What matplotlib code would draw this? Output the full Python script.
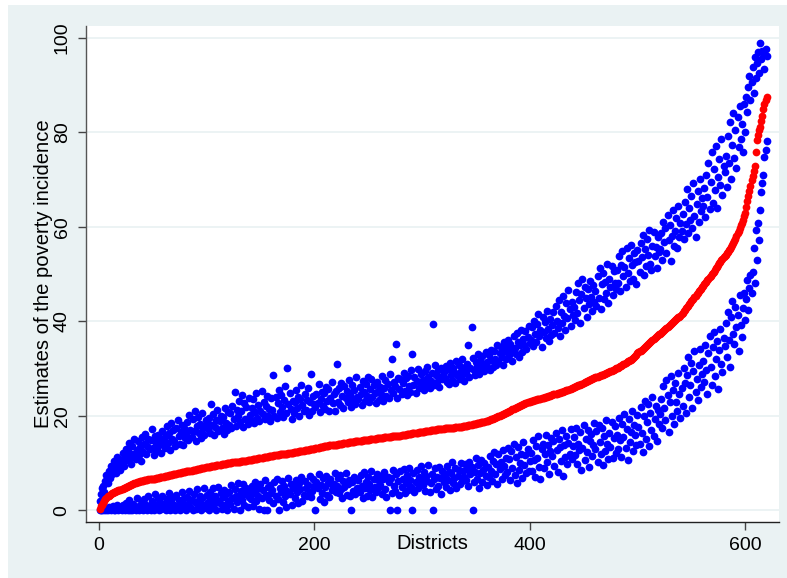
import numpy as np
import matplotlib.pyplot as plt
from matplotlib.patches import Rectangle

plt.rcParams['font.family'] = ['Liberation Sans', 'DejaVu Sans']

# Point estimates of poverty incidence, districts sorted by estimate
estimate = [
    0.3, 0.8, 1.2, 1.6, 2.0, 2.3, 2.6, 2.9, 3.1, 3.3, 3.4, 3.6, 3.7, 3.8, 3.9, 4.0, 4.1, 4.2, 4.2, 4.3,
    4.4, 4.5, 4.6, 4.7, 4.9, 5.0, 5.1, 5.2, 5.3, 5.4, 5.5, 5.6, 5.7, 5.8, 5.9, 6.0, 6.0, 6.1, 6.1, 6.2,
    6.2, 6.3, 6.3, 6.4, 6.4, 6.5, 6.5, 6.6, 6.6, 6.6, 6.7, 6.7, 6.8, 6.8, 6.9, 6.9, 7.0, 7.0, 7.1, 7.1,
    7.2, 7.2, 7.3, 7.3, 7.4, 7.4, 7.5, 7.5, 7.6, 7.6, 7.7, 7.7, 7.8, 7.8, 7.9, 7.9, 8.0, 8.0, 8.1, 8.1,
    8.2, 8.2, 8.3, 8.3, 8.4, 8.4, 8.5, 8.5, 8.6, 8.6, 8.7, 8.7, 8.8, 8.8, 8.9, 8.9, 9.0, 9.0, 9.1, 9.1,
    9.1, 9.2, 9.2, 9.3, 9.3, 9.3, 9.4, 9.4, 9.5, 9.5, 9.5, 9.6, 9.6, 9.7, 9.7, 9.7, 9.8, 9.8, 9.9, 9.9,
    9.9, 10.0, 10.0, 10.1, 10.1, 10.1, 10.2, 10.2, 10.3, 10.3, 10.3, 10.4, 10.4, 10.4, 10.5, 10.5, 10.5, 10.6, 10.6, 10.6,
    10.7, 10.7, 10.8, 10.8, 10.9, 10.9, 10.9, 11.0, 11.0, 11.0, 11.1, 11.1, 11.2, 11.2, 11.2, 11.3, 11.3, 11.4, 11.4, 11.4,
    11.5, 11.5, 11.6, 11.6, 11.6, 11.7, 11.7, 11.8, 11.8, 11.8, 11.9, 11.9, 12.0, 12.0, 12.0, 12.1, 12.1, 12.2, 12.2, 12.2,
    12.3, 12.3, 12.4, 12.4, 12.4, 12.5, 12.5, 12.6, 12.6, 12.6, 12.7, 12.7, 12.8, 12.8, 12.8, 12.9, 12.9, 13.0, 13.0, 13.0,
    13.1, 13.1, 13.2, 13.2, 13.3, 13.3, 13.4, 13.4, 13.5, 13.5, 13.5, 13.6, 13.6, 13.7, 13.7, 13.8, 13.8, 13.8, 13.9, 13.9,
    13.9, 14.0, 14.0, 14.1, 14.1, 14.1, 14.2, 14.2, 14.3, 14.3, 14.3, 14.4, 14.4, 14.4, 14.5, 14.5, 14.5, 14.6, 14.6, 14.6,
    14.6, 14.7, 14.7, 14.7, 14.8, 14.8, 14.8, 14.9, 14.9, 14.9, 14.9, 15.0, 15.0, 15.0, 15.1, 15.1, 15.1, 15.2, 15.2, 15.2,
    15.2, 15.3, 15.3, 15.3, 15.4, 15.4, 15.4, 15.5, 15.5, 15.5, 15.5, 15.6, 15.6, 15.6, 15.7, 15.7, 15.7, 15.8, 15.8, 15.8,
    15.9, 15.9, 16.0, 16.0, 16.0, 16.1, 16.1, 16.2, 16.2, 16.2, 16.3, 16.3, 16.3, 16.4, 16.4, 16.4, 16.5, 16.5, 16.5, 16.5,
    16.6, 16.6, 16.7, 16.7, 16.7, 16.8, 16.8, 16.9, 16.9, 16.9, 17.0, 17.0, 17.0, 17.1, 17.1, 17.1, 17.1, 17.2, 17.2, 17.2,
    17.3, 17.3, 17.3, 17.4, 17.4, 17.4, 17.5, 17.5, 17.5, 17.5, 17.6, 17.6, 17.6, 17.7, 17.7, 17.7, 17.7, 17.8, 17.8, 17.8,
    17.9, 17.9, 18.0, 18.0, 18.1, 18.1, 18.2, 18.2, 18.3, 18.3, 18.4, 18.4, 18.5, 18.5, 18.6, 18.6, 18.7, 18.7, 18.8, 18.9,
    18.9, 19.0, 19.1, 19.2, 19.3, 19.4, 19.5, 19.6, 19.7, 19.8, 19.9, 20.0, 20.1, 20.2, 20.3, 20.4, 20.5, 20.6, 20.7, 20.8,
    20.9, 21.1, 21.2, 21.4, 21.5, 21.6, 21.7, 21.8, 21.9, 22.0, 22.1, 22.2, 22.3, 22.4, 22.5, 22.6, 22.7, 22.8, 22.9, 23.0,
    23.1, 23.1, 23.2, 23.3, 23.3, 23.4, 23.5, 23.5, 23.6, 23.6, 23.7, 23.8, 23.8, 23.9, 24.0, 24.0, 24.1, 24.2, 24.2, 24.3,
    24.4, 24.5, 24.5, 24.6, 24.7, 24.8, 24.8, 24.9, 25.0, 25.0, 25.1, 25.2, 25.3, 25.4, 25.5, 25.5, 25.6, 25.7, 25.8, 25.9,
    26.0, 26.1, 26.2, 26.3, 26.4, 26.5, 26.6, 26.7, 26.8, 27.0, 27.1, 27.2, 27.3, 27.4, 27.5, 27.6, 27.7, 27.8, 27.9, 28.0,
    28.1, 28.2, 28.3, 28.4, 28.5, 28.6, 28.6, 28.7, 28.8, 28.9, 29.0, 29.1, 29.2, 29.3, 29.4, 29.5, 29.6, 29.7, 29.8, 30.0,
    30.1, 30.2, 30.4, 30.5, 30.6, 30.8, 30.9, 31.0, 31.2, 31.3, 31.5, 31.6, 31.8, 31.9, 32.1, 32.3, 32.5, 32.7, 32.9, 33.2,
    33.4, 33.6, 33.8, 34.0, 34.2, 34.4, 34.6, 34.8, 35.0, 35.2, 35.4, 35.6, 35.8, 36.0, 36.2, 36.4, 36.6, 36.8, 37.0, 37.2,
    37.4, 37.6, 37.8, 38.0, 38.2, 38.4, 38.6, 38.8, 39.0, 39.2, 39.4, 39.6, 39.8, 40.0, 40.2, 40.4, 40.6, 40.8, 41.0, 41.2,
    41.5, 41.8, 42.1, 42.4, 42.7, 43.0, 43.3, 43.6, 43.9, 44.2, 44.5, 44.8, 45.1, 45.4, 45.7, 46.0, 46.3, 46.6, 46.9, 47.2,
    47.5, 47.8, 48.1, 48.4, 48.7, 49.0, 49.3, 49.6, 49.9, 50.2, 50.5, 50.8, 51.2, 51.5, 51.9, 52.3, 52.6, 52.9, 53.2, 53.5,
    53.8, 54.1, 54.4, 54.7, 55.0, 55.3, 55.7, 56.1, 56.5, 57.0, 57.5, 58.0, 58.6, 59.2, 59.8, 60.3, 60.9, 61.5, 62.2, 63.0,
    64.2, 65.4, 66.5, 67.6, 68.7, 69.8, 70.8, 71.8, 72.8, 75.8, 78.4, 79.4, 80.4, 81.2, 82.3, 83.5, 85.0, 86.0, 86.8, 87.4,
]

# Upper bound of the interval
upper = [
    2.0, 3.5, 4.8, 5.2, 3.9, 6.1, 7.4, 5.8, 8.2, 6.9, 9.3, 7.6, 8.8, 10.4, 9.1, 7.9, 11.2, 9.7, 10.8, 8.6,
    10.2, 12.1, 9.4, 11.5, 13.0, 10.7, 12.6, 14.2, 11.1, 9.8, 13.5, 12.0, 15.1, 10.9, 12.8, 14.6, 11.7, 13.3, 10.5, 15.4,
    12.4, 14.0, 16.2, 11.8, 13.6, 15.0, 12.9, 14.8, 17.1, 13.2, 11.6, 15.7, 14.3, 12.7, 16.0, 13.9, 15.3, 12.2, 16.8, 14.5,
    13.1, 15.6, 17.8, 14.2, 16.4, 12.8, 18.4, 15.0, 16.9, 14.7, 13.5, 17.3, 19.1, 15.8, 14.0, 16.6, 18.0, 13.8, 17.5, 15.2,
    16.1, 18.7, 14.9, 20.2, 17.0, 15.5, 19.3, 16.8, 21.0, 14.6, 17.9, 19.8, 16.3, 18.2, 15.2, 20.6, 17.4, 16.0, 19.0, 18.5,
    17.2, 19.5, 16.4, 22.4, 18.1, 20.3, 15.9, 17.7, 19.1, 21.2, 16.7, 18.8, 20.0, 17.5, 19.7, 16.2, 21.6, 18.4, 17.0, 20.8,
    18.0, 20.5, 17.3, 22.1, 19.4, 25.0, 17.8, 21.3, 19.9, 23.2, 18.6, 20.9, 24.3, 17.6, 22.6, 19.2, 21.8, 18.3, 23.7, 20.1,
    19.0, 21.7, 23.5, 18.5, 20.7, 24.8, 19.6, 22.3, 18.9, 21.1, 25.3, 20.4, 23.0, 19.3, 22.0, 24.1, 20.0, 21.5, 18.8, 23.8,
    21.2, 28.6, 20.0, 23.9, 19.5, 22.7, 25.5, 20.8, 24.4, 21.9, 19.8, 23.4, 26.2, 20.5, 30.0, 22.5, 24.9, 21.4, 19.4, 23.1,
    20.6, 22.8, 25.4, 21.7, 24.0, 19.9, 23.6, 26.4, 22.2, 20.9, 24.7, 21.3, 23.3, 25.9, 20.2, 22.9, 28.8, 21.0, 24.2, 22.4,
    21.8, 24.5, 22.6, 26.7, 20.7, 23.5, 25.1, 22.0, 24.8, 21.5, 26.0, 23.2, 25.6, 21.1, 23.8, 27.2, 22.7, 24.6, 20.9, 25.3,
    31.0, 23.0, 25.8, 22.3, 27.0, 24.1, 21.6, 26.3, 23.7, 25.2, 22.8, 27.6, 24.4, 21.9, 26.6, 23.3, 25.5, 22.5, 28.1, 24.0,
    23.6, 26.1, 24.7, 22.2, 27.4, 25.0, 23.1, 26.8, 24.2, 28.3, 22.9, 25.7, 27.8, 23.9, 26.4, 24.9, 22.6, 27.1, 25.3, 23.4,
    26.0, 24.5, 28.4, 23.2, 25.9, 27.5, 24.1, 26.7, 23.8, 28.8, 25.4, 32.0, 24.8, 27.2, 26.3, 35.2, 23.7, 28.0, 25.6, 27.7,
    24.6, 26.9, 29.1, 25.2, 27.9, 24.3, 28.5, 26.2, 25.0, 29.6, 33.0, 26.6, 28.2, 24.9, 27.3, 29.9, 25.8, 27.0, 28.9, 26.4,
    27.6, 25.5, 29.4, 26.8, 30.3, 28.1, 25.9, 27.4, 29.0, 39.4, 26.5, 30.8, 28.6, 27.1, 29.7, 26.0, 28.3, 30.1, 27.8, 29.2,
    28.0, 30.5, 27.2, 29.8, 26.7, 31.2, 28.7, 27.5, 30.0, 29.3, 26.9, 31.6, 28.4, 30.7, 27.7, 29.5, 32.0, 28.9, 27.3, 30.4,
    29.1, 31.0, 35.0, 28.2, 30.2, 38.8, 32.3, 29.7, 28.6, 31.4, 30.6, 33.0, 28.8, 31.9, 29.9, 32.6, 30.9, 29.4, 33.4, 31.3,
    30.1, 32.9, 29.6, 34.0, 31.7, 30.4, 33.6, 32.1, 30.8, 35.0, 31.5, 33.2, 34.6, 32.4, 30.7, 35.5, 33.8, 32.0, 34.3, 36.1,
    32.8, 35.2, 33.9, 31.6, 36.8, 34.4, 33.1, 37.5, 35.7, 32.5, 34.9, 38.2, 33.5, 36.3, 35.0, 37.9, 34.1, 36.6, 39.0, 35.4,
    36.0, 38.7, 34.8, 40.1, 37.3, 35.6, 39.4, 41.5, 36.9, 38.1, 34.5, 40.8, 37.8, 39.9, 36.4, 42.2, 38.4, 35.9, 40.5, 37.0,
    39.2, 41.9, 37.6, 43.3, 40.0, 38.6, 44.5, 36.8, 42.0, 39.7, 45.3, 41.1, 38.2, 43.8, 40.6, 46.6, 42.5, 39.0, 44.1, 41.4,
    43.0, 40.2, 46.1, 41.8, 48.0, 44.4, 39.6, 45.7, 49.0, 42.8, 47.3, 44.9, 41.0, 46.8, 43.6, 48.6, 45.2, 42.1, 47.7, 44.0,
    46.3, 43.2, 49.5, 45.0, 51.2, 42.6, 47.9, 50.3, 44.7, 48.4, 46.0, 52.1, 43.9, 49.0, 47.2, 51.6, 45.6, 50.7, 48.1, 46.8,
    50.8, 48.0, 53.8, 46.3, 52.0, 54.9, 49.6, 51.4, 47.2, 55.6, 50.2, 53.3, 48.5, 56.1, 51.9, 49.0, 54.4, 52.5, 47.9, 55.0,
    52.8, 50.4, 56.6, 53.5, 58.2, 49.7, 55.3, 51.6, 57.4, 54.1, 59.3, 52.2, 50.9, 56.0, 58.8, 53.9, 55.8, 51.3, 57.9, 54.7,
    55.2, 58.6, 53.0, 61.1, 56.7, 59.8, 54.4, 62.5, 57.3, 60.4, 52.7, 58.1, 63.6, 56.0, 59.2, 61.8, 55.5, 64.3, 57.9, 60.9,
    59.0, 62.7, 57.4, 65.3, 60.5, 68.0, 58.6, 63.9, 61.4, 66.6, 59.7, 69.2, 62.2, 57.8, 64.8, 67.5, 61.0, 70.1, 63.4, 66.0,
    64.5, 68.2, 62.0, 71.0, 66.3, 73.5, 63.7, 69.4, 75.8, 65.1, 72.2, 67.8, 77.0, 64.0, 70.6, 74.4, 68.9, 78.5, 66.7, 72.8,
    71.5, 75.0, 68.4, 79.2, 73.6, 82.1, 70.2, 77.3, 84.0, 74.6, 80.5, 72.4, 83.2, 76.9, 85.5, 78.6, 81.7, 75.9, 86.0, 80.0,
    87.5, 84.3, 89.6, 92.0, 86.8, 90.7, 93.8, 88.4, 96.0, 91.5, 94.6, 97.0, 92.6, 98.9, 95.5, 97.2, 96.8, 93.4, 97.6, 96.2,
]

# Lower bound of the interval
lower = [
    0.0, 0.1, 0.0, 0.2, 0.0, 0.4, 0.1, 0.0, 0.6, 0.2, 0.0, 0.3, 0.9, 0.1, 0.0, 0.5, 1.2, 0.0, 0.2, 0.7,
    0.0, 1.0, 0.3, 0.0, 1.6, 0.4, 0.0, 2.1, 0.1, 0.8, 0.0, 1.4, 0.2, 0.0, 2.6, 0.6, 0.0, 1.1, 0.3, 1.8,
    0.0, 2.3, 0.5, 1.2, 0.0, 3.0, 0.8, 0.1, 2.0, 1.5, 0.0, 3.4, 0.4, 1.0, 2.6, 0.0, 1.7, 0.2, 2.9, 0.6,
    1.3, 0.0, 2.4, 0.7, 3.6, 0.0, 1.9, 0.3, 2.7, 1.1, 0.0, 3.2, 0.9, 2.1, 0.0, 1.6, 3.8, 0.4, 2.5, 1.0,
    0.0, 2.8, 1.4, 4.0, 0.6, 2.2, 0.0, 3.5, 1.7, 0.2, 4.4, 2.0, 0.9, 3.1, 0.0, 2.6, 1.2, 4.7, 0.5, 3.3,
    1.8, 0.0, 3.9, 2.4, 0.8, 4.6, 1.3, 3.0, 0.0, 2.2, 5.0, 1.5, 3.7, 0.3, 2.8, 4.2, 1.0, 3.4, 0.0, 2.0,
    3.8, 1.4, 5.3, 2.5, 0.2, 4.4, 3.1, 1.7, 5.8, 2.9, 0.0, 4.0, 2.2, 5.5, 1.1, 3.5, 4.8, 0.6, 2.7, 4.1,
    2.4, 5.1, 0.9, 3.7, 6.0, 1.9, 4.5, 3.0, 0.3, 5.6, 2.6, 4.2, 0.0, 6.3, 3.3, 0.0, 4.9, 2.1, 5.4, 3.6,
    4.3, 1.5, 5.9, 3.1, 6.6, 2.3, 0.0, 4.7, 3.8, 6.1, 1.8, 5.2, 2.9, 0.7, 4.0, 6.8, 3.4, 5.6, 1.2, 4.6,
    5.0, 2.6, 6.4, 3.9, 1.6, 5.7, 4.4, 7.0, 2.0, 3.2, 6.2, 4.8, 3.0, 5.4, 3.5, 7.3, 2.8, 4.1, 6.7, 5.2,
    0.0, 6.0, 4.6, 7.6, 2.4, 5.3, 3.7, 6.9, 1.8, 4.9, 7.2, 3.3, 5.8, 2.7, 6.5, 4.2, 5.0, 5.6, 7.9, 3.9,
    5.1, 6.8, 3.6, 7.4, 4.5, 2.5, 6.1, 4.9, 7.8, 3.2, 5.5, 6.4, 2.9, 0.0, 5.9, 4.0, 7.1, 3.4, 6.6, 4.6,
    6.3, 3.8, 7.5, 5.2, 2.6, 8.1, 4.7, 6.0, 3.1, 7.0, 5.6, 4.3, 8.4, 2.8, 6.7, 5.0, 3.9, 7.7, 4.8, 6.2,
    5.4, 7.3, 3.5, 6.5, 8.0, 4.4, 2.7, 7.1, 5.9, 0.0, 6.8, 3.7, 8.6, 5.1, 4.0, 7.6, 0.0, 6.1, 3.3, 8.2,
    4.9, 6.6, 8.8, 3.6, 5.7, 7.4, 4.2, 9.0, 6.3, 5.0, 0.0, 7.9, 3.9, 6.0, 8.5, 4.6, 7.0, 5.5, 9.3, 6.8,
    5.3, 8.0, 4.1, 7.2, 6.2, 9.6, 3.8, 5.8, 7.7, 0.0, 6.5, 8.9, 4.5, 7.0, 5.2, 9.1, 6.9, 3.4, 8.3, 6.0,
    7.5, 5.0, 9.4, 6.4, 8.1, 4.3, 7.8, 10.2, 5.7, 6.8, 9.0, 4.8, 7.3, 8.6, 5.5, 10.0, 6.1, 8.4, 7.0, 9.7,
    6.4, 8.8, 5.1, 10.3, 7.6, 9.2, 0.0, 5.9, 8.0, 11.0, 6.7, 9.6, 4.6, 7.9, 10.6, 6.0, 8.5, 9.9, 7.2, 5.4,
    9.1, 7.0, 11.4, 8.3, 6.1, 10.5, 12.3, 7.7, 9.8, 5.6, 11.9, 8.7, 10.1, 6.6, 12.8, 9.4, 7.4, 11.1, 8.0, 13.2,
    10.8, 6.3, 12.6, 9.0, 14.0, 7.5, 11.3, 5.8, 13.4, 8.6, 10.0, 12.0, 6.9, 14.4, 9.5, 11.7, 7.9, 13.0, 8.2, 10.4,
    12.2, 8.4, 14.8, 10.6, 7.1, 13.5, 11.0, 15.6, 9.2, 6.5, 12.9, 14.1, 8.9, 11.8, 16.0, 10.2, 13.8, 7.6, 12.5, 15.2,
    11.5, 14.6, 9.3, 16.4, 12.7, 8.1, 15.0, 13.3, 10.4, 16.9, 7.3, 13.9, 11.2, 15.8, 9.8, 14.3, 12.0, 17.2, 10.9, 13.6,
    15.4, 11.7, 17.5, 9.7, 14.0, 12.8, 16.6, 8.5, 13.1, 18.0, 10.6, 15.1, 12.3, 17.0, 9.2, 14.7, 16.2, 11.4, 13.7, 18.4,
    13.0, 16.8, 10.2, 18.1, 14.5, 11.9, 17.3, 9.6, 15.7, 12.6, 19.0, 14.1, 10.8, 16.4, 13.4, 18.6, 11.1, 15.2, 17.8, 12.2,
    16.0, 12.9, 19.6, 14.8, 11.3, 18.3, 15.5, 20.4, 13.2, 17.1, 10.7, 19.2, 14.4, 16.6, 21.0, 12.5, 18.0, 15.9, 13.8, 20.1,
    17.6, 14.0, 21.8, 16.3, 12.4, 19.9, 23.1, 15.1, 18.7, 22.4, 13.6, 20.6, 17.0, 24.0, 15.8, 19.3, 22.0, 14.7, 21.2, 18.2,
    20.4, 23.6, 17.4, 26.2, 21.7, 19.0, 27.5, 24.3, 16.6, 22.8, 28.4, 20.0, 25.5, 18.3, 26.9, 23.0, 21.1, 29.0, 24.7, 19.6,
    25.8, 22.1, 30.2, 27.0, 20.5, 28.7, 32.4, 24.0, 26.5, 31.1, 21.6, 29.4, 33.6, 25.1, 27.8, 23.3, 30.8, 34.2, 26.0, 28.9,
    31.5, 27.2, 35.0, 29.6, 24.6, 33.2, 36.8, 30.3, 26.4, 34.5, 37.7, 28.4, 32.1, 35.9, 25.7, 33.9, 38.3, 31.0, 29.2, 36.4,
    34.7, 39.6, 32.5, 42.0, 36.1, 30.4, 40.8, 44.2, 37.3, 35.2, 43.1, 38.8, 41.4, 33.6, 45.5, 39.1, 36.6, 42.9, 46.0, 40.3,
    44.8, 48.7, 42.3, 47.0, 49.8, 45.9, 50.4, 55.5, 48.2, 59.3, 53.0, 60.8, 57.1, 63.6, 67.4, 69.3, 71.0, 74.8, 76.3, 78.2,
]

x_ticks = [0, 200, 400, 600]
y_ticks = [0, 20, 40, 60, 80, 100]

bg = "#EAF2F3"

fig = plt.figure(figsize=(7.87, 5.78), dpi=100, facecolor="white")
# light outer region, with thin white strip on top/left like the original export
fig.patches.append(Rectangle((8 / 787, 0), 1, 1 - 5 / 578, transform=fig.transFigure,
                             facecolor=bg, edgecolor="none", zorder=-10))

ax = fig.add_axes([86 / 787, 1 - 522 / 578, (779 - 86) / 787, (522 - 26) / 578])
ax.set_facecolor("white")

ms = 31
ax.scatter(np.arange(1, len(upper) + 1), upper, s=ms, color="#0000FF", linewidths=0, zorder=3)
ax.scatter(np.arange(1, len(lower) + 1), lower, s=ms, color="#0000FF", linewidths=0, zorder=3)
ax.scatter(np.arange(1, len(estimate) + 1), estimate, s=ms, color="#FF0000", linewidths=0, zorder=4)

ax.set_xlim(-12, 631.5)
ax.set_ylim(-2.5, 102.5)
ax.set_xticks(x_ticks)
ax.set_yticks(y_ticks)
ax.grid(axis="y", color=bg, linewidth=1.3)
ax.set_axisbelow(True)

for s in ["top", "right"]:
    ax.spines[s].set_visible(False)
ax.spines["left"].set_color("#555555")
ax.spines["bottom"].set_color("#222222")
ax.spines["left"].set_linewidth(1.0)
ax.spines["bottom"].set_linewidth(1.0)

ax.tick_params(axis="both", length=6, width=1.0, color="#444444", labelsize=14, pad=5)
plt.setp(ax.get_yticklabels(), rotation=90, va="center")

ax.set_xlabel("Districts", fontsize=14.5)
ax.xaxis.set_label_coords(0.5, -0.025)
ax.set_ylabel("Estimates of the poverty incidence", fontsize=14.6)
ax.yaxis.set_label_coords(-0.048, 0.5)

fig.savefig("out.png", dpi=100, facecolor=fig.get_facecolor())
